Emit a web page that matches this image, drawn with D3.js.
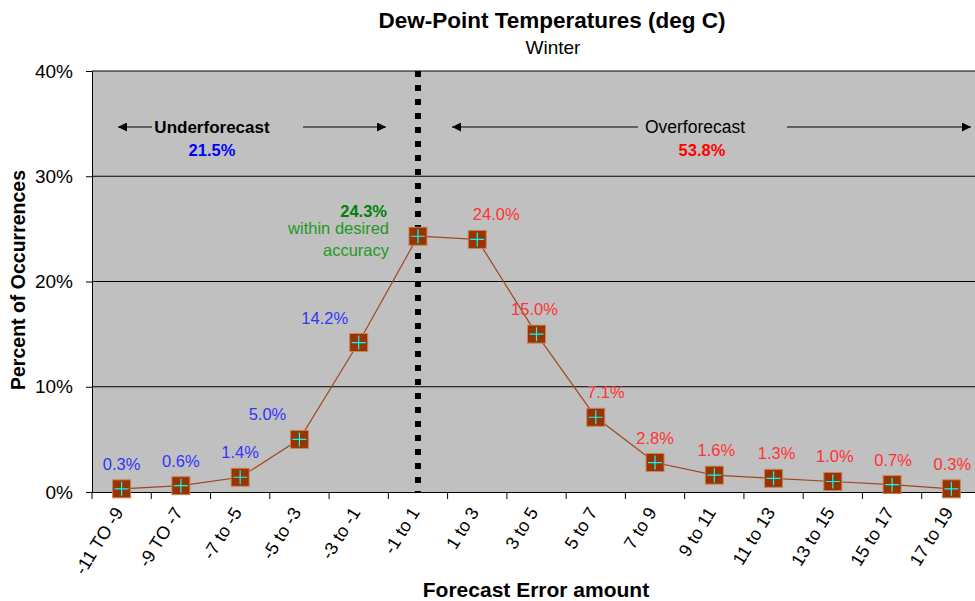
<!DOCTYPE html>
<html><head><meta charset="utf-8">
<script src="https://cdn.jsdelivr.net/npm/d3@7"></script>
<style>body{margin:0;background:#fff}svg{display:block;font-family:"Liberation Sans",Arial,sans-serif}</style>
</head><body><svg id="c" width="975" height="601"></svg>
<script>
const categories = ["-11 TO -9","-9 TO -7","-7 to -5","-5 to -3","-3 to -1","-1 to 1","1 to 3","3 to 5","5 to 7","7 to 9","9 to 11","11 to 13","13 to 15","15 to 17","17 to 19"];
const values = [0.3,0.6,1.4,5.0,14.2,24.3,24.0,15.0,7.1,2.8,1.6,1.3,1.0,0.7,0.3];
const labelSide = ["u","u","u","u","u","c","o","o","o","o","o","o","o","o","o"];
const labelDx = [0,0,0,-32,-34,0,19,-2,10,0,2,3,2,1,1];
const yTicks = [0,10,20,30,40];
const title = "Dew-Point Temperatures (deg C)";
const subtitle = "Winter";
const underTotal = "21.5%", overTotal = "53.8%", withinTotal = "24.3%";

const svg = d3.select("#c");
const L=92, R=981, T=71, B=492;
const x = d3.scaleBand().domain(categories).range([L,R]);
const y = d3.scaleLinear().domain([0,40]).range([B,T]);

svg.append("rect").attr("x",L).attr("y",T).attr("width",R-L).attr("height",B-T).attr("fill","#c0c0c0");

// gridlines
svg.append("g").selectAll("line").data(yTicks.filter(d=>d>0)).join("line")
  .attr("x1",L).attr("x2",R).attr("y1",d=>y(d)).attr("y2",d=>y(d)).attr("stroke","#000").attr("stroke-width",1);

// y axis
const ya = svg.append("g").attr("transform",`translate(${L},0)`)
  .call(d3.axisLeft(y).tickValues(yTicks).tickFormat(d=>d+"%").tickSize(6).tickPadding(13));
ya.select(".domain").attr("stroke","#000");
ya.selectAll("text").attr("font-size",19).attr("fill","#000").attr("font-family","Liberation Sans, Arial");

// x axis
const xa = svg.append("g").attr("transform",`translate(0,${B})`)
  .call(d3.axisBottom(x).tickSize(0).tickFormat(""));
xa.select(".domain").attr("stroke","#000");
svg.append("g").selectAll("line").data(categories).join("line")
  .attr("x1",d=>x(d)).attr("x2",d=>x(d)).attr("y1",B).attr("y2",B+7).attr("stroke","#000");
svg.append("g").selectAll("text").data(categories).join("text")
  .attr("transform",d=>`translate(${x(d)+x.bandwidth()/2-3},${B+17}) rotate(-58)`)
  .attr("text-anchor","end").attr("dy","0.35em").attr("font-size",18).attr("fill","#000").text(d=>d);

// dotted divider at center of "-1 to 1"
const cx0 = x("-1 to 1")+x.bandwidth()/2;
svg.append("line").attr("x1",cx0).attr("x2",cx0).attr("y1",T).attr("y2",B)
  .attr("stroke","#000").attr("stroke-width",6).attr("stroke-dasharray","6,8");

// line
const pts = categories.map((c,i)=>({c,v:values[i],i}));
svg.append("path").datum(pts)
  .attr("d",d3.line().x(d=>x(d.c)+x.bandwidth()/2).y(d=>y(d.v)))
  .attr("fill","none").attr("stroke","#a0461e").attr("stroke-width",1.2);

// markers
const m = svg.append("g").selectAll("g").data(pts).join("g")
  .attr("transform",d=>`translate(${x(d.c)+x.bandwidth()/2},${y(d.v)})`);
m.append("rect").attr("x",-9).attr("y",-9).attr("width",18).attr("height",18)
  .attr("fill","#993300").attr("stroke","#c8845c").attr("stroke-width",1);
m.append("path").attr("d","M-7,0H7M0,-7V7").attr("stroke","#00ffff").attr("stroke-width",1.2);

// value labels
svg.append("g").selectAll("text").data(pts.filter(d=>labelSide[d.i]!=="c")).join("text")
  .attr("x",d=>x(d.c)+x.bandwidth()/2+labelDx[d.i]).attr("y",d=>y(d.v)-19)
  .attr("text-anchor","middle").attr("font-size",16.5)
  .attr("fill",d=>labelSide[d.i]==="u"?"#3333ff":"#ff3333")
  .text(d=>d.v.toFixed(1)+"%");

// within annotation
const wa = svg.append("g").attr("text-anchor","end").attr("fill","#229922").attr("font-size",16.5);
wa.append("text").attr("x",387).attr("y",217).attr("font-weight","bold").attr("fill","#008000").text(withinTotal);
wa.append("text").attr("x",389).attr("y",234).text("within desired");
wa.append("text").attr("x",389).attr("y",256).text("accuracy");

// arrows
const defs = svg.append("defs");
defs.append("marker").attr("id","ah").attr("viewBox","0 0 10 10").attr("refX",10).attr("refY",5)
  .attr("markerWidth",12).attr("markerHeight",9).attr("markerUnits","userSpaceOnUse").attr("orient","auto-start-reverse")
  .append("path").attr("d","M0,0L10,5L0,10Z").attr("fill","#000");
const ay = 127;
function arrow(x1,x2){svg.append("line").attr("x1",x1).attr("x2",x2).attr("y1",ay).attr("y2",ay)
  .attr("stroke","#000").attr("stroke-width",1.2).attr("marker-end","url(#ah)");}
arrow(152,118); arrow(303,386); arrow(638,452); arrow(787,971);
svg.append("text").attr("x",212).attr("y",ay+6).attr("text-anchor","middle").attr("font-size",17).attr("font-weight","bold").text("Underforecast");
svg.append("text").attr("x",212).attr("y",156).attr("text-anchor","middle").attr("font-size",16.5).attr("font-weight","bold").attr("fill","#0000ff").text(underTotal);
svg.append("text").attr("x",695).attr("y",ay+6).attr("text-anchor","middle").attr("font-size",17.5).text("Overforecast");
svg.append("text").attr("x",702).attr("y",156).attr("text-anchor","middle").attr("font-size",16.5).attr("font-weight","bold").attr("fill","#ff0000").text(overTotal);

// titles
svg.append("text").attr("x",552).attr("y",28).attr("text-anchor","middle").attr("font-size",22.5).attr("font-weight","bold").text(title);
svg.append("text").attr("x",553).attr("y",54).attr("text-anchor","middle").attr("font-size",19).text(subtitle);
svg.append("text").attr("x",536).attr("y",597).attr("text-anchor","middle").attr("font-size",21).attr("font-weight","bold").text("Forecast Error amount");
svg.append("text").attr("transform","translate(25,280) rotate(-90)").attr("text-anchor","middle").attr("font-size",19.5).attr("font-weight","bold").text("Percent of Occurrences");
</script></body></html>
